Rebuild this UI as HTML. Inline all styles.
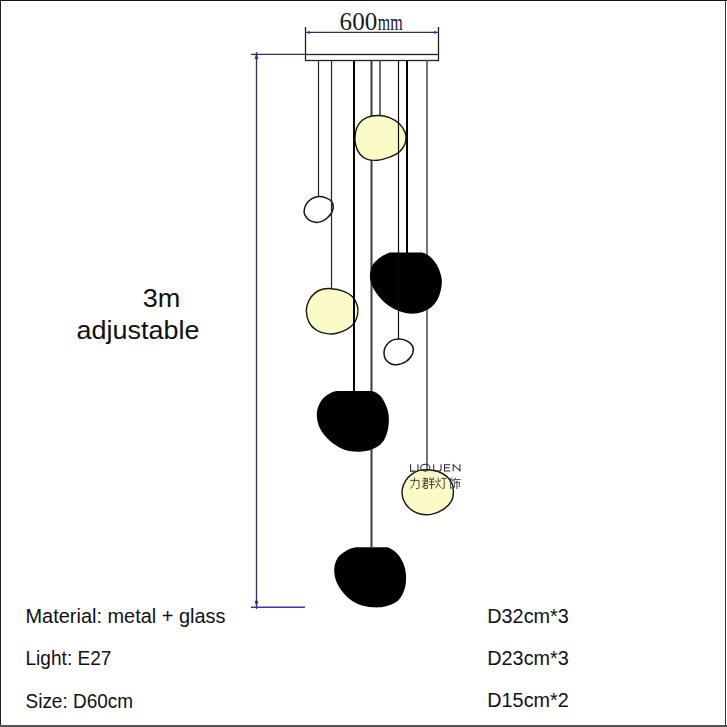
<!DOCTYPE html>
<html><head><meta charset="utf-8"><style>
html,body{margin:0;padding:0;background:#fff;}
body{width:727px;height:727px;position:relative;overflow:hidden;}
svg{position:absolute;left:0;top:0;}
.t{font-family:"Liberation Sans",sans-serif;fill:#111;}
</style></head><body>
<svg width="727" height="727" viewBox="0 0 727 727">
<rect x="0" y="0" width="727" height="727" fill="#fff"/>
<!-- border -->
<rect x="0" y="0" width="727" height="1" fill="#111"/>
<rect x="0" y="0" width="1" height="727" fill="#222"/>
<rect x="725" y="0" width="1" height="727" fill="#333"/>
<rect x="0" y="725" width="727" height="2" fill="#555"/>
<!-- top dimension -->
<line x1="305.5" y1="27" x2="305.5" y2="54" stroke="#1c1c34" stroke-width="1.3"/>
<line x1="438.5" y1="27" x2="438.5" y2="54" stroke="#1c1c34" stroke-width="1.3"/>
<line x1="305" y1="32.4" x2="439" y2="32.4" stroke="#30304c" stroke-width="1.4"/>
<path d="M305.5,32.4 L310,31 L310,33.8Z" fill="#2626a0"/>
<path d="M438.5,32.4 L434,31 L434,33.8Z" fill="#2626a0"/>
<text x="339.6" y="29.5" font-family="Liberation Serif" font-size="25.2" textLength="37.6" lengthAdjust="spacingAndGlyphs" fill="#1a1a22">600</text>
<text transform="translate(377.8,29.5) scale(0.69,1)" x="0" y="0" font-family="Liberation Serif" font-size="23.2" fill="#1a1a22">mm</text>
<!-- plate -->
<rect x="305.5" y="54.5" width="133" height="6" fill="#fff" stroke="#222" stroke-width="1.3"/>
<!-- left dimension -->
<line x1="251" y1="54.4" x2="305" y2="54.4" stroke="#30304c" stroke-width="1.4"/>
<line x1="251" y1="607.3" x2="305" y2="607.3" stroke="#3836b0" stroke-width="1.6"/>
<line x1="256.5" y1="52" x2="256.5" y2="609" stroke="#34334f" stroke-width="1.35"/>
<path d="M256.5,52.5 L254.7,59 L258.3,59Z" fill="#2828a0"/>
<path d="M256.5,607 L254.8,601 L258.2,601Z" fill="#24247a"/>
<line x1="318.5" y1="60" x2="318.5" y2="197" stroke="#222" stroke-width="1.2"/>
<line x1="371.5" y1="60" x2="371.5" y2="547" stroke="#3a3a3a" stroke-width="2"/>
<line x1="380" y1="60" x2="380" y2="116" stroke="#444" stroke-width="1.6"/>
<line x1="407" y1="60" x2="407" y2="253" stroke="#000" stroke-width="2"/>
<line x1="427" y1="60" x2="427" y2="470" stroke="#555" stroke-width="1.6"/>
<path d="M378.5,115.4 C382.4,115.4 386.0,116.2 389.5,117.6 C393.0,119.0 396.8,121.3 399.4,123.7 C402.0,126.1 403.8,129.6 404.9,131.9 C406.0,134.2 406.0,135.4 406.0,137.4 C406.0,139.4 405.6,142.1 404.9,144.0 C404.2,145.9 403.2,147.4 402.0,149.0 C400.8,150.6 399.7,152.0 397.5,153.4 C395.3,154.8 392.2,156.3 389.0,157.4 C385.8,158.5 381.6,159.9 378.0,160.2 C374.4,160.5 370.5,160.4 367.5,159.4 C364.5,158.4 361.8,156.6 359.8,154.0 C357.8,151.4 356.1,147.5 355.4,144.0 C354.7,140.5 354.8,136.3 355.4,133.0 C355.9,129.7 356.9,126.8 358.7,124.2 C360.5,121.6 363.1,119.1 366.4,117.6 C369.7,116.1 374.6,115.4 378.5,115.4Z" fill="#fbfbc8" stroke="#1a1a10" stroke-width="1.45"/>
<path d="M318.7,196.5 C321.1,196.3 323.9,197.1 326.0,197.9 C328.1,198.7 330.3,199.7 331.5,201.3 C332.7,202.9 333.2,205.6 333.2,207.5 C333.2,209.4 332.6,211.2 331.5,213.0 C330.4,214.8 328.3,217.1 326.6,218.5 C324.9,219.9 322.9,221.0 321.1,221.6 C319.3,222.2 317.7,222.6 315.6,222.3 C313.6,222.0 310.6,221.2 308.8,219.9 C307.0,218.6 305.4,216.1 304.6,214.4 C303.9,212.7 304.0,211.3 304.3,209.6 C304.6,207.9 305.1,205.9 306.3,204.1 C307.5,202.3 309.4,200.2 311.5,198.9 C313.6,197.6 316.3,196.7 318.7,196.5Z" fill="#fff" stroke="#111" stroke-width="1.5"/>
<path d="M331.3,288.7 C334.6,289.0 338.8,289.6 342.3,290.9 C345.8,292.2 349.7,294.0 352.2,296.4 C354.7,298.8 356.3,302.3 357.2,305.2 C358.1,308.1 358.2,311.1 357.7,314.0 C357.2,316.9 356.2,320.2 354.4,322.8 C352.6,325.4 349.6,327.6 346.7,329.4 C343.8,331.1 340.1,332.6 336.8,333.3 C333.5,334.0 330.2,334.1 326.9,333.6 C323.6,333.1 319.9,332.3 317.0,330.5 C314.1,328.7 311.1,326.1 309.3,322.8 C307.5,319.5 306.4,314.4 306.3,310.7 C306.2,307.0 307.4,303.7 308.8,300.8 C310.2,297.9 312.5,295.0 314.8,293.1 C317.1,291.2 319.8,290.0 322.5,289.3 C325.2,288.6 328.0,288.4 331.3,288.7Z" fill="#fbfbc8" stroke="#1a1a10" stroke-width="1.45"/>
<path d="M389.7,252.4 L421.9,252.4 C424.8,253.0 426.8,254.0 429.3,256.1 C431.8,258.2 434.8,261.5 436.8,264.8 C438.8,268.1 440.3,272.6 441.1,275.9 C441.9,279.2 442.0,281.3 441.7,284.6 C441.4,287.9 440.6,292.2 439.2,295.7 C437.8,299.2 435.7,302.9 433.0,305.6 C430.3,308.3 426.6,310.5 423.1,311.8 C419.6,313.1 415.7,313.7 412.0,313.7 C408.3,313.7 404.8,313.1 400.9,311.8 C397.0,310.5 392.4,308.5 388.5,305.6 C384.6,302.7 380.3,298.6 377.3,294.5 C374.3,290.4 371.5,285.2 370.5,280.9 C369.5,276.6 370.0,272.0 371.1,268.5 C372.2,265.0 374.2,262.5 377.3,259.8 C380.4,257.1 386.0,253.6 389.7,252.4Z" fill="#000"/>
<path d="M398.7,339.1 C401.2,339.1 404.1,339.7 406.3,340.6 C408.5,341.6 410.5,343.3 411.7,344.8 C412.9,346.3 413.3,347.9 413.3,349.7 C413.3,351.5 412.9,353.6 411.7,355.5 C410.5,357.4 408.6,359.8 406.3,361.3 C404.0,362.8 400.6,364.2 398.0,364.6 C395.4,365.0 392.7,364.7 390.6,363.7 C388.5,362.7 386.4,360.7 385.3,358.8 C384.2,356.9 383.9,354.4 384.0,352.2 C384.1,350.0 384.9,347.5 386.1,345.6 C387.4,343.7 389.4,341.7 391.5,340.6 C393.6,339.5 396.2,339.1 398.7,339.1Z" fill="#fff" stroke="#111" stroke-width="1.5"/>
<path d="M337.2,391.1 L371.8,391.1 C374.9,391.9 378.0,393.4 380.5,396.1 C383.0,398.8 385.3,403.5 386.7,407.2 C388.1,410.9 388.8,414.3 388.9,418.4 C389.0,422.5 388.5,427.9 387.3,432.0 C386.1,436.1 384.6,440.1 381.8,443.1 C379.0,446.1 375.2,448.5 370.6,449.9 C366.1,451.3 359.2,451.8 354.5,451.6 C349.8,451.4 346.2,450.5 342.1,448.7 C338.0,446.9 333.5,444.1 329.8,440.7 C326.1,437.3 322.1,432.9 319.9,428.3 C317.7,423.8 316.6,417.9 316.8,413.4 C317.0,408.8 318.9,404.3 321.1,401.0 C323.3,397.7 327.1,395.2 329.8,393.6 C332.5,392.0 334.3,391.5 337.2,391.1Z" fill="#000"/>
<path d="M355.8,547.2 L387.4,547.2 C390.7,548.2 394.4,550.8 397.0,553.4 C399.6,556.0 401.7,559.3 403.2,563.0 C404.7,566.7 405.8,571.0 406.0,575.4 C406.2,579.8 405.9,585.0 404.6,589.1 C403.3,593.2 401.5,597.3 398.4,600.2 C395.3,603.1 390.4,605.1 386.0,606.3 C381.6,607.5 376.9,607.6 372.3,607.3 C367.7,607.0 362.9,606.2 358.5,604.3 C354.1,602.4 349.7,599.5 346.1,596.0 C342.6,592.5 339.2,588.0 337.2,583.6 C335.2,579.2 334.1,574.2 334.2,569.9 C334.3,565.5 335.7,560.8 337.9,557.5 C340.1,554.2 344.5,551.6 347.5,549.9 C350.5,548.2 352.8,547.7 355.8,547.2Z" fill="#000"/>
<path d="M426.9,469.8 C430.0,470.0 434.6,470.4 437.9,471.5 C441.2,472.6 444.3,474.3 446.7,476.4 C449.1,478.5 451.1,481.2 452.2,484.1 C453.3,487.0 453.5,491.1 453.3,494.0 C453.1,496.9 452.8,499.1 451.1,501.7 C449.5,504.3 446.7,507.3 443.4,509.4 C440.1,511.5 435.3,513.7 431.3,514.4 C427.3,515.1 422.9,514.8 419.2,513.8 C415.5,512.8 411.9,510.7 409.3,508.3 C406.7,505.9 404.5,502.6 403.3,499.5 C402.1,496.4 401.8,492.7 402.2,489.6 C402.6,486.5 403.8,483.5 405.5,480.8 C407.2,478.1 410.3,475.4 412.6,473.7 C414.9,472.0 416.8,471.0 419.2,470.4 C421.6,469.8 423.8,469.6 426.9,469.8Z" fill="#fbfbc8" stroke="#1a1a10" stroke-width="1.45"/>
<line x1="331.5" y1="60" x2="331.5" y2="289" stroke="#222" stroke-width="1.2"/>
<line x1="354" y1="60" x2="354" y2="391" stroke="#000" stroke-width="2"/>
<line x1="398.5" y1="60" x2="398.5" y2="339" stroke="#111" stroke-width="1.2"/>
<!-- watermark -->
<g fill="none" stroke="#25253c" stroke-width="1.05">
<path d="M410.6,464.2 V471.1 H415.2 M417.9,464.2 V471.2 M433.7,464.2 V469 Q433.7,471.1 436,471.1 H438.8 Q441,471.1 441,469 V464.2 M450.2,464.7 H444.5 V470.9 H450.2 M444.5,467.8 H449.6 M453.2,471.3 V464.6 L459.9,470.9 V464.2"/>
<ellipse cx="425.3" cy="467.7" rx="4.6" ry="3.4"/>
</g>
<g fill="none" stroke="#333" stroke-opacity="0.9" stroke-width="1" stroke-linecap="butt">
<path d="M410.2,480.4 H419 V487.6 Q419,488.6 417.8,488.6 H416 M414.5,477.6 V480.4 Q414.3,485.5 410.3,488.6"/>
<path d="M422.8,478.6 H427.4 V483.4 M422.3,481 H428.2 M422.8,483.4 H427.4 M425,477.6 V482 Q424.6,485 422.3,487.5 M424,485.4 H427.4 V488.4 H424 Z M429.8,477.4 L430.6,478.6 M433.6,477.4 L432.8,478.6 M429.2,479.2 H434.4 M429.4,481.8 H434.2 M428.8,484.6 H434.8 M431.6,479.2 V489"/>
<path d="M435.6,480.3 L436.3,482.5 M440.4,479.7 L439.6,482 M438.2,477.8 V482.5 Q437.8,486 435.1,488.4 M438.4,483.8 L440.9,487.8 M441.2,478.4 H446.4 M444.2,478.4 V487.6 Q444.2,488.6 443,488.4 L442,488"/>
<path d="M451.4,477.6 L449.6,481.4 M451,479.8 H453 L452.2,481.4 M450.6,481.2 V488.6 L452.6,487.2 M453.6,479.6 H460.6 M455.4,477.6 L453.8,481.8 M454.4,482.4 V487.8 M454.4,482.4 H459.4 V486.8 L458.6,486.6 M456.9,480.8 V489"/>
</g>
<!-- texts -->
<text class="t" x="142.8" y="307.2" font-size="26.6" textLength="37.6" lengthAdjust="spacingAndGlyphs">3m</text>
<text class="t" x="76.6" y="339.4" font-size="26" textLength="122.8" lengthAdjust="spacingAndGlyphs">adjustable</text>
<text class="t" x="25.5" y="622.7" font-size="19.3" textLength="200" lengthAdjust="spacingAndGlyphs">Material: metal + glass</text>
<text class="t" x="25.5" y="665.2" font-size="19.3" textLength="86" lengthAdjust="spacingAndGlyphs">Light: E27</text>
<text class="t" x="25.5" y="707.8" font-size="19.3" textLength="107.6" lengthAdjust="spacingAndGlyphs">Size: D60cm</text>
<text class="t" x="487.3" y="622.6" font-size="19.3" textLength="81.5" lengthAdjust="spacingAndGlyphs">D32cm*3</text>
<text class="t" x="487.3" y="664.8" font-size="19.3" textLength="81.5" lengthAdjust="spacingAndGlyphs">D23cm*3</text>
<text class="t" x="487.3" y="707" font-size="19.3" textLength="81.5" lengthAdjust="spacingAndGlyphs">D15cm*2</text>
</svg>
</body></html>
